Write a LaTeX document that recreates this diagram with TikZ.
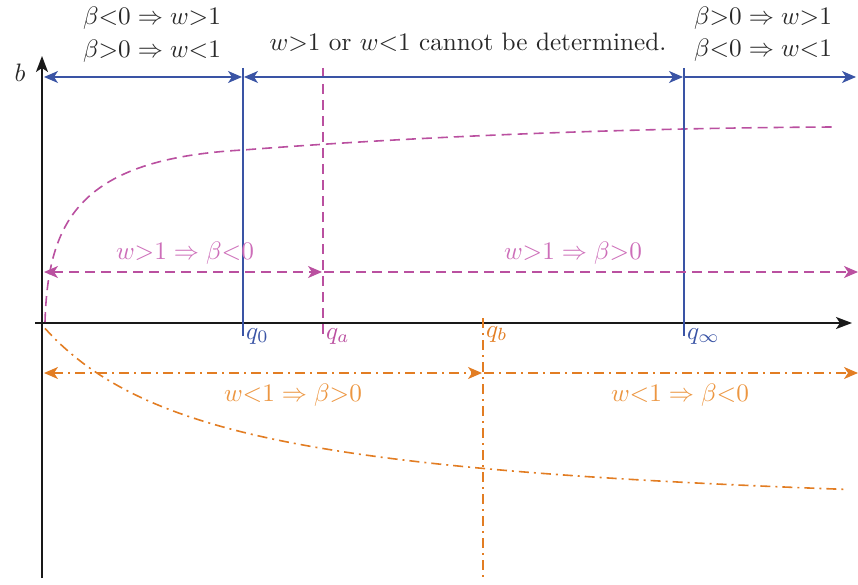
\documentclass[tikz,border=0pt]{standalone}
\usepackage{graphicx}
\usetikzlibrary{arrows.meta}
\definecolor{myblue}{RGB}{58,84,165}
\definecolor{mymag}{RGB}{186,80,160}
\definecolor{mymagt}{RGB}{205,110,185}
\definecolor{myor}{RGB}{226,125,35}
\definecolor{myort}{RGB}{236,150,65}
\definecolor{mytxt}{RGB}{40,40,40}
\newcommand\bigtxt[1]{\scalebox{2.52}{#1}}
\begin{document}
\begin{tikzpicture}[x=1pt,y=-1pt,
  font=\fontsize{10}{12}\selectfont,
  tip/.style={-{Stealth[length=14pt,width=12pt,inset=4pt]}},
  tips/.style={{Stealth[length=14pt,width=12pt,inset=4pt]}-{Stealth[length=14pt,width=12pt,inset=4pt]}},
  axis/.style={draw=black!90, line width=1.8pt},
  bl/.style={draw=myblue, line width=1.5pt},
  mg/.style={draw=mymag, line width=1.6pt, dash pattern=on 10pt off 6pt},
  og/.style={draw=myor, line width=1.6pt, dash pattern=on 10pt off 5pt on 2pt off 5pt},
  lbl/.style={inner sep=0pt, text=mytxt},
  mlbl/.style={inner sep=0pt, text=mymagt},
  olbl/.style={inner sep=0pt, text=myort},
  qlbl/.style={inner sep=0pt, anchor=north west}]
\useasboundingbox (0,0) rectangle (858,585);
% axes
\coordinate (ybot) at (42,578);
\coordinate (ytop) at (42,56);
\coordinate (xl) at (35,323);
\coordinate (xr) at (852,323);
\draw[axis, -{Stealth[length=16pt,width=12pt,inset=4pt]}] (ybot) -- (ytop);
\draw[axis, -{Stealth[length=16pt,width=12pt,inset=4pt]}] (xl) -- (xr);
\node[lbl] (b) at (20,73) {\bigtxt{$b$}};
% curves
\coordinate (c0) at (45,322);
\coordinate (c1) at (243,150);
\coordinate (c2) at (835,127);
\draw[mg] (c0) .. controls (48,220) and (80,159) .. (c1)
               .. controls (410,137) and (620,128) .. (c2);
\draw[og] plot[domain=3:803, samples=120, smooth] ({42+\x},{525-348/((\x+174)/100)});
% verticals
\coordinate (q0t) at (243,68); \coordinate (q0b) at (243,336);
\coordinate (qit) at (684,68); \coordinate (qib) at (684,336);
\coordinate (qat) at (323,68); \coordinate (qab) at (323,336);
\coordinate (qbt) at (483,318); \coordinate (qbb) at (483,578);
\draw[bl] (q0t) -- (q0b);
\draw[bl] (qit) -- (qib);
\draw[mg] (qat) -- (qab);
\draw[og] (qbt) -- (qbb);
\node[qlbl, text=myblue] (lq0) at (246,328) {\bigtxt{$q_0$}};
\node[qlbl, text=mymag] (lqa) at (326,328) {\bigtxt{$q_a$}};
\node[qlbl, text=myor] (lqb) at (486,326) {\bigtxt{$q_b$}};
\node[qlbl, text=myblue] (lqi) at (687,328) {\bigtxt{$q_\infty$}};
% blue arrows
\coordinate (b1) at (44,77); \coordinate (b2) at (242,77);
\coordinate (b3) at (244,77); \coordinate (b4) at (683,77);
\coordinate (b5) at (685,77); \coordinate (b6) at (856,77);
\draw[bl, tips] (b1) -- (b2);
\draw[bl, tips] (b3) -- (b4);
\draw[bl, tip] (b5) -- (b6);
% magenta arrows
\coordinate (m1) at (44,272); \coordinate (m2) at (322,272);
\coordinate (m3) at (324,272); \coordinate (m4) at (858,272);
\draw[mg, tips] (m1) -- (m2);
\draw[mg, tip] (m3) -- (m4);
% orange arrows
\coordinate (o1) at (44,373); \coordinate (o2) at (482,373);
\coordinate (o3) at (484,373); \coordinate (o4) at (858,373);
\draw[og, tips] (o1) -- (o2);
\draw[og, tip] (o3) -- (o4);
% labels
\node[lbl] (t1) at (152,18) {\bigtxt{$\beta{<}0 \Rightarrow w{>}1$}};
\node[lbl] (t2) at (152,51) {\bigtxt{$\beta{>}0 \Rightarrow w{<}1$}};
\node[lbl] (t3) at (468,42) {\bigtxt{$w{>}1$ or $w{<}1$ cannot be determined.}};
\node[lbl] (t4) at (763,18) {\bigtxt{$\beta{>}0 \Rightarrow w{>}1$}};
\node[lbl] (t5) at (763,50) {\bigtxt{$\beta{<}0 \Rightarrow w{<}1$}};
\node[mlbl] (m5) at (185,253) {\bigtxt{$w{>}1 \Rightarrow \beta{<}0$}};
\node[mlbl] (m6) at (573,253) {\bigtxt{$w{>}1 \Rightarrow \beta{>}0$}};
\node[olbl] (o5) at (293,395) {\bigtxt{$w{<}1 \Rightarrow \beta{>}0$}};
\node[olbl] (o6) at (680,395) {\bigtxt{$w{<}1 \Rightarrow \beta{<}0$}};
\end{tikzpicture}
\end{document}
